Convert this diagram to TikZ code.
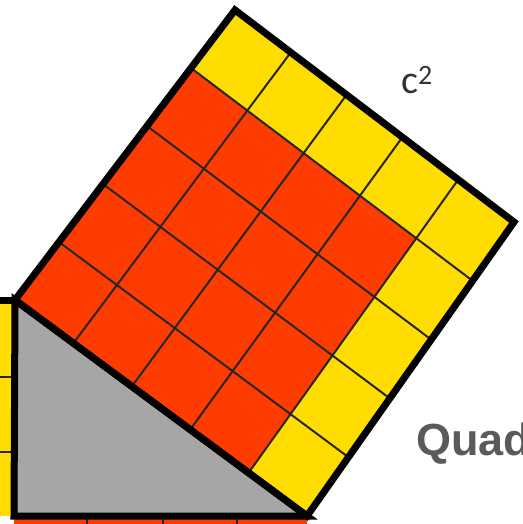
\documentclass[tikz,border=0pt]{standalone}
\usepackage{fontspec}
\setsansfont{Liberation Sans}
\newfontfamily\labelfont{Carlito}
\usetikzlibrary{calc}

\definecolor{sqYellow}{HTML}{FFDD00}
\definecolor{sqRed}{HTML}{FF3C00}
\definecolor{triGray}{HTML}{A6A6A6}
\definecolor{textGray}{HTML}{5A5A5A}

\begin{document}
\begin{tikzpicture}[
    x=1pt,
    y=-1pt,
    border/.style={line width=7pt, draw=black, line join=miter},
    gridline/.style={line width=2pt, draw=black!85},
    cellYellow/.style={fill=sqYellow},
    cellRed/.style={fill=sqRed}
]
    \clip (0,0) rectangle (522,524);
    \useasboundingbox (0,0) rectangle (522,524);

    % Corners of the square on the hypotenuse
    \coordinate (L) at (15,300);
    \coordinate (B) at (307,516);
    \coordinate (R) at (514,222);
    \coordinate (T) at (235,10);
    \coordinate (C) at (14,516);

    % Square on the short leg (cut off at the left)
    \fill [cellYellow] (-10,300) rectangle (14,516);
    \foreach \y in {377, 452} {
        \draw [gridline] (-10,\y) -- (14,\y);
    }
    \draw [border] (-10,300) -- (14,300);

    % Square on the long leg (cut off at the bottom)
    \fill [cellRed] (14,516) rectangle (307,540);
    \foreach \x in {87, 163, 237} {
        \draw [gridline] (\x,516) -- (\x,540);
    }

    % Square c^2: yellow ring, red 4x4 block
    \fill [cellYellow] (L) -- (B) -- (R) -- (T) -- cycle;
    \coordinate (Lb) at ($(L)!0.8!(B)$);
    \coordinate (Lt) at ($(L)!0.8!(T)$);
    \coordinate (Br) at ($(B)!0.8!(R)$);
    \coordinate (In) at ($(Lt)!0.8!(Br)$);
    \fill [cellRed] (L) -- (Lb) -- (In) -- (Lt) -- cycle;

    % Grid lines
    \foreach \i in {1,...,4} {
        \draw [gridline] ($(L)!\i/5!(T)$) -- ($(B)!\i/5!(R)$);
        \draw [gridline] ($(L)!\i/5!(B)$) -- ($(T)!\i/5!(R)$);
    }

    % Triangle and outlines
    \filldraw [border, fill=triGray] (L) -- (C) -- (B) -- cycle;
    \draw [border] (L) -- (B) -- (R) -- (T) -- cycle;

    % Labels
    \node [anchor=base west, inner sep=0, text=black!80,
           font=\labelfont\fontsize{40}{40}\selectfont] (csq) at (401,94) {c\textsuperscript{2}};
    \node [anchor=base west, inner sep=0, text=textGray,
           font=\sffamily\bfseries\fontsize{45}{45}\selectfont] (quad) at (416,455) {Quad};
\end{tikzpicture}
\end{document}
